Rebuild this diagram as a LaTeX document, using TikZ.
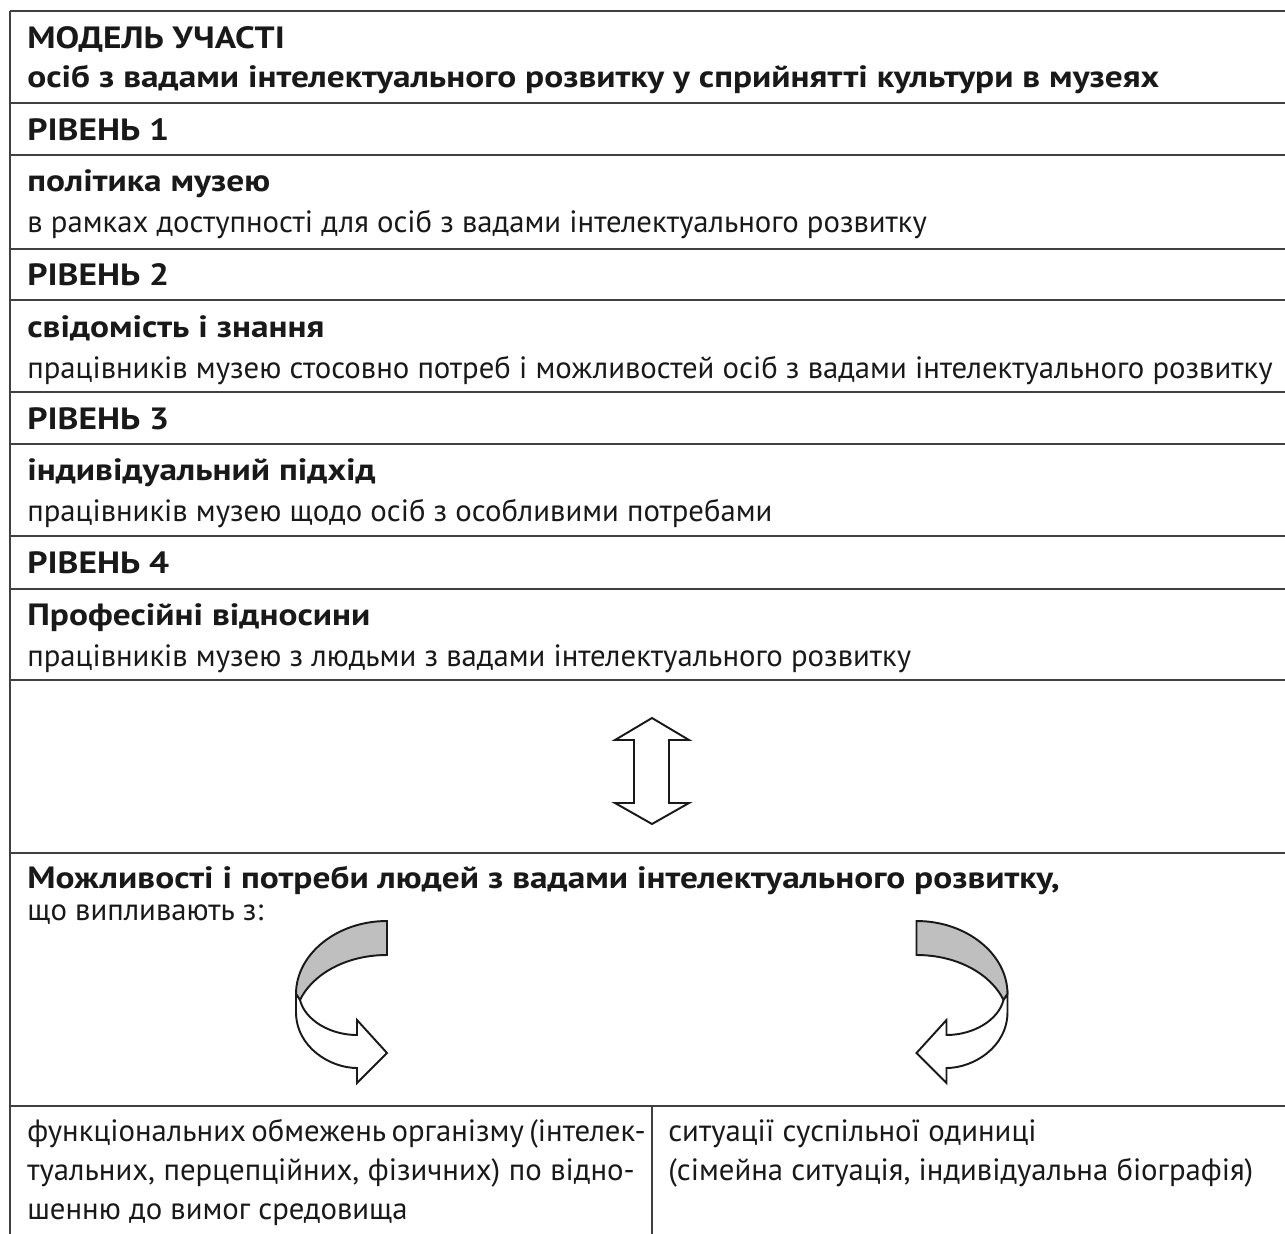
\documentclass[tikz,border=0pt]{standalone}
\usepackage{fontspec}
\setmainfont{PT Sans}[BoldFeatures={FakeStretch=1.15}]
\usetikzlibrary{positioning}

\tikzset{
    rule/.style={line width=1.1pt, draw=black!75},
    txt/.style={anchor=base west, inner sep=0pt, text=black!90, font=\fontsize{17.5}{21}\selectfont},
    head/.style={txt, font=\fontsize{17.5}{21}\selectfont\bfseries},
    outline/.style={draw=black!90, line width=1.1pt, line join=miter},
}

% one twisted ribbon arrow, drawn around x = 0
\newcommand{\ribbonarrow}{%
    \filldraw[outline, fill=black!25] (45.5,921) .. controls (-4.5,921) and (-45.5,954) .. (-45.5,994)
        -- (-41.5,1000) .. controls (-29.5,975) and (3.5,955) .. (45.5,955) -- cycle;
    \filldraw[outline, fill=white] (-45.5,994) -- (-45.5,1012) .. controls (-45.5,1047) and (-11.5,1068) .. (15.5,1068)
        -- (15.5,1083) -- (45.5,1053) -- (15.5,1020) -- (15.5,1035)
        .. controls (-11.5,1035) and (-36.5,1020) .. (-41.5,1000) -- cycle;
}

\begin{document}
\begin{tikzpicture}[x=0.02cm, y=-0.02cm]
    \useasboundingbox (0,0) rectangle (1285,1234);

    % table rules
    \foreach \y in {11,103,155,249,300,392,444,536,589,680,853,1106}
        \draw[rule] (10,\y) -- (1285,\y);
    \draw[rule] (10,11) -- (10,1234);
    \draw[rule] (652,1106) -- (652,1234);

    % title
    \node[head] (title) at (27,48) {МОДЕЛЬ УЧАСТІ};
    \node[head] (subtitle) at (27,87) {осіб з вадами інтелектуального розвитку у сприйнятті культури в музеях};

    % levels
    \node[head] (lvlone) at (27,140) {РІВЕНЬ 1};
    \node[head] (policy) at (27,191) {політика музею};
    \node[txt] (policytxt) at (27,232) {в рамках доступності для осіб з вадами інтелектуального розвитку};

    \node[head] (lvltwo) at (27,285) {РІВЕНЬ 2};
    \node[head] (aware) at (27,337) {свідомість і знання};
    \node[txt] (awaretxt) at (27,378) {працівників музею стосовно потреб і можливостей осіб з вадами інтелектуального розвитку};

    \node[head] (lvlthree) at (27,429) {РІВЕНЬ 3};
    \node[head] (indiv) at (27,480) {індивідуальний підхід};
    \node[txt] (indivtxt) at (27,521) {працівників музею щодо осіб з особливими потребами};

    \node[head] (lvlfour) at (27,573) {РІВЕНЬ 4};
    \node[head] (prof) at (27,625) {Професійні відносини};
    \node[txt] (proftxt) at (27,666) {працівників музею з людьми з вадами інтелектуального розвитку};

    % two-way arrow
    \draw[outline] (652,718) -- (689,740) -- (669,740) -- (669,803) -- (689,803) -- (652,824)
        -- (615,803) -- (634,803) -- (634,740) -- (615,740) -- cycle;

    % needs
    \node[head] (needs) at (27,888) {Можливості і потреби людей з вадами інтелектуального розвитку,};
    \node[txt] (source) at (27,920) {що випливають з:};

    \begin{scope}[shift={(341.5,0)}]
        \ribbonarrow
    \end{scope}
    \begin{scope}[shift={(962,0)}, xscale=-1]
        \ribbonarrow
    \end{scope}

    % bottom cells
    \node[txt] (body) at (27,1141) {\makebox[12.15cm][s]{функціональних обмежень організму (інтелек-}};
    \node[txt] (bodytwo) at (27,1180) {\makebox[12.15cm][s]{туальних, перцепційних, фізичних) по відно-}};
    \node[txt] (bodythree) at (27,1219) {шенню до вимог средовища};
    \node[txt] (social) at (668,1141) {ситуації суспільної одиниці};
    \node[txt] (socialtxt) at (668,1180) {(сімейна ситуація, індивідуальна біографія)};
\end{tikzpicture}
\end{document}
